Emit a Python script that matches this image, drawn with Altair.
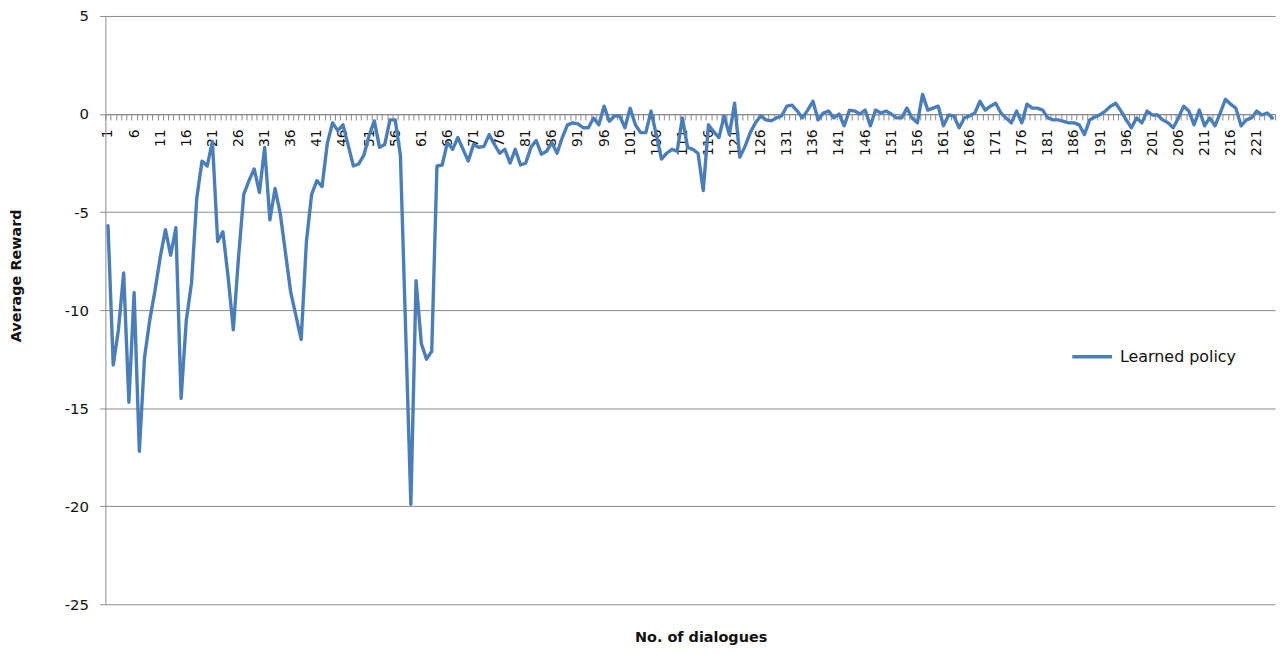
import altair as alt
import pandas as pd

# Average reward per dialogue index
rewards_1_44 = [-5.7, -12.8, -11.0, -8.1, -14.7, -9.1, -17.2, -12.4, -10.5, -9.0,
                -7.3, -5.9, -7.2, -5.8, -14.5, -10.5, -8.6, -4.3, -2.4, -2.65,
                -1.4, -6.5, -6.0, -8.3, -11.0, -7.3, -4.1, -3.4, -2.8, -4.0,
                -1.7, -5.4, -3.8, -5.1, -7.1, -9.1, -10.3, -11.5, -6.5, -4.1,
                -3.4, -3.7, -1.5, -0.45]
rewards_45_88 = [-0.85, -0.55, -1.6, -2.65, -2.55, -2.1, -1.1, -0.35, -1.7, -1.55,
                 -0.3, -0.3, -2.1, -11.0, -19.9, -8.5, -11.7, -12.5, -12.1, -2.65,
                 -2.6, -1.45, -1.8, -1.2, -1.8, -2.4, -1.55, -1.7, -1.65, -1.05,
                 -1.55, -2.0, -1.8, -2.5, -1.8, -2.6, -2.5, -1.7, -1.35, -2.05,
                 -1.9, -1.45, -2.0, -1.2]
rewards_89_132 = [-0.55, -0.45, -0.5, -0.7, -0.7, -0.2, -0.55, 0.4, -0.37, -0.1,
                  -0.1, -0.7, 0.3, -0.55, -0.95, -0.95, 0.15, -1.05, -2.3, -2.0,
                  -1.8, -1.9, -0.2, -1.7, -1.8, -2.0, -3.9, -0.55, -0.9, -1.2,
                  -0.1, -1.05, 0.55, -2.2, -1.65, -0.95, -0.45, -0.1, -0.3, -0.35,
                  -0.2, -0.1, 0.4, 0.45]
rewards_133_176 = [0.15, -0.2, 0.2, 0.65, -0.3, 0.05, 0.15, -0.2, 0.0, -0.6,
                   0.2, 0.15, 0.0, 0.2, -0.6, 0.2, 0.05, 0.15, 0.0, -0.2,
                   -0.2, 0.3, -0.2, -0.45, 1.0, 0.2, 0.3, 0.4, -0.6, -0.05,
                   -0.1, -0.7, -0.2, -0.1, 0.05, 0.65, 0.2, 0.4, 0.55, 0.05,
                   -0.2, -0.45, 0.15, -0.45]
rewards_177_224 = [0.5, 0.3, 0.3, 0.2, -0.2, -0.3, -0.3, -0.37, -0.45, -0.45,
                   -0.55, -1.05, -0.3, -0.15, -0.03, 0.15, 0.4, 0.55, 0.15, -0.3,
                   -0.7, -0.2, -0.45, 0.15, -0.05, -0.05, -0.3, -0.45, -0.7, -0.2,
                   0.4, 0.15, -0.55, 0.2, -0.6, -0.2, -0.6, 0.05, 0.75, 0.5,
                   0.3, -0.6, -0.3, -0.2, 0.15, -0.05, 0.05, -0.2]

rewards = rewards_1_44 + rewards_45_88 + rewards_89_132 + rewards_133_176 + rewards_177_224
dialogues = list(range(1, len(rewards) + 1))
series_name = "Learned policy"
y_ticks = [-25, -20, -15, -10, -5, 0, 5]

df = pd.DataFrame({"dialogue": dialogues, "reward": rewards, "series": series_name})

W = 1177
H = 592
zero_offset = -H * 25.0 / 30.0  # x axis crosses at reward 0
GRAY = "#8a8a8a"
FONT = "DejaVu Sans"

chart = alt.Chart(df).mark_line(
    strokeWidth=3.4, strokeJoin="round", strokeCap="round"
).encode(
    x=alt.X(
        "dialogue:O",
        bandPosition=0.5,
        scale=alt.Scale(type="band", paddingInner=0, paddingOuter=0),
        axis=alt.Axis(
            orient="bottom",
            offset=zero_offset,
            title="No. of dialogues",
            titleFont=FONT,
            titleFontSize=14.5,
            titleFontWeight="bold",
            titleColor="#111",
            titleX=599,
            titleY=527,
            titleBaseline="middle",
            titleAlign="center",
            labelExpr="(datum.value - 1) % 5 == 0 ? datum.label : ''",
            labelAngle=270,
            labelAlign="right",
            labelBaseline="middle",
            labelPadding=9,
            labelFont=FONT,
            labelFontSize=14,
            labelColor="#111",
            labelOverlap=False,
            tickBand="extent",
            tickSize=6,
            tickColor=GRAY,
            domainColor=GRAY,
            grid=False,
        ),
    ),
    y=alt.Y(
        "reward:Q",
        scale=alt.Scale(domain=[-25, 5], nice=False, zero=False),
        axis=alt.Axis(
            values=y_ticks,
            labelExpr="'' + datum.value",
            grid=True,
            gridColor=GRAY,
            domainColor=GRAY,
            tickColor=GRAY,
            tickSize=6,
            labelPadding=11,
            labelFont=FONT,
            labelFontSize=15,
            labelColor="#111",
            title="Average Reward",
            titleFont=FONT,
            titleFontSize=14.5,
            titleFontWeight="bold",
            titleColor="#111",
            titleX=-89,
            titleY=261,
            titleAngle=270,
            titleBaseline="middle",
            titleAlign="center",
        ),
    ),
    color=alt.Color(
        "series:N",
        scale=alt.Scale(domain=[series_name], range=["#4a7ebb"]),
        legend=alt.Legend(
            title=None,
            orient="none",
            legendX=971,
            legendY=321,
            symbolType="stroke",
            symbolSize=1600,
            symbolStrokeWidth=3.6,
            labelFont=FONT,
            labelFontSize=16,
            labelColor="#111",
            labelOffset=6,
            padding=0,
        ),
    ),
).properties(
    width=W,
    height=H,
    autosize=alt.AutoSizeParams(type="none"),
    padding={"left": 98, "top": 6, "right": 4, "bottom": 42},
).configure_view(stroke=None)

chart.save("out.html", embed_options={"renderer": "svg", "actions": False})
